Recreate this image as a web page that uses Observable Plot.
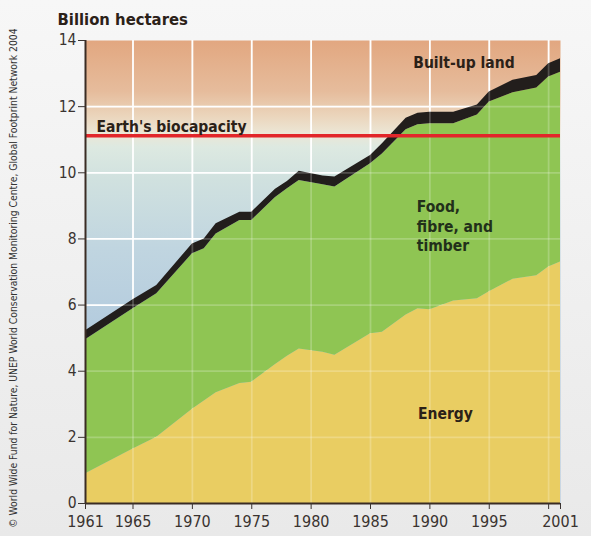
<!DOCTYPE html>
<html><head><meta charset="utf-8">
<script src="https://cdn.jsdelivr.net/npm/d3@7"></script>
<script src="https://cdn.jsdelivr.net/npm/@observablehq/plot@0.6"></script>
<style>
html,body{margin:0;padding:0;}
body{width:591px;height:536px;background:linear-gradient(#f7f7f7,#e9e9e9);overflow:hidden;}
#chart svg{display:block;overflow:visible;}
</style></head><body><div id="chart"></div>
<script>
const years   = [1961,1965,1967,1970,1971,1972,1974,1975,1977,1978,1979,1981,1982,1985,1986,1988,1989,1990,1992,1994,1995,1997,1999,2000,2001];
const energy  = [0.90,1.65,2.00,2.85,3.10,3.35,3.63,3.67,4.20,4.45,4.67,4.57,4.48,5.13,5.18,5.70,5.89,5.86,6.12,6.19,6.40,6.78,6.89,7.15,7.30];
const food    = [4.05,4.24,4.34,4.70,4.60,4.80,4.93,4.89,5.05,5.07,5.10,5.07,5.09,5.14,5.39,5.60,5.56,5.62,5.36,5.56,5.74,5.64,5.67,5.75,5.74];
const builtUp = [0.27,0.27,0.25,0.30,0.30,0.31,0.25,0.25,0.25,0.22,0.28,0.26,0.30,0.25,0.31,0.35,0.35,0.35,0.35,0.30,0.30,0.38,0.38,0.40,0.41];
const biocapacity = 11.12;
const seriesNames  = ["Energy", "Food, fibre, and timber", "Built-up land"];
const seriesColors = ["#e9cd62", "#8fc553", "#221e1c"];
const yTicks = [0,2,4,6,8,10,12,14];
const xTicks = [1961,1965,1970,1975,1980,1985,1990,1995,2000,2001];
const xTickLabels = ["1961","1965","1970","1975","1980","1985","1990","1995","","2001"];
const gridYValues = [2,4,6,8,10,12];
const gridXValues = [1965,1970,1975,1980,1985,1990,1995,2000];
const titleText = "Billion hectares";
const creditText = "© World Wide Fund for Nature, UNEP World Conservation Monitoring Centre, Global Footprint Network 2004";

const rows = [];
years.forEach((yr, i) => {
  rows.push({year: yr, series: seriesNames[0], value: energy[i]});
  rows.push({year: yr, series: seriesNames[1], value: food[i]});
  rows.push({year: yr, series: seriesNames[2], value: builtUp[i]});
});

const COND = "'Liberation Sans Narrow','DejaVu Sans Condensed','Roboto',sans-serif";
const ink = "#2b2118";

const chart = Plot.plot({
  width: 591, height: 536,
  marginTop: 40, marginBottom: 33, marginLeft: 85, marginRight: 31,
  x: {domain: [1961, 2001]},
  y: {domain: [0, 14]},
  color: {domain: seriesNames, range: seriesColors},
  style: {background: "transparent", fontFamily: COND, overflow: "visible"},
  marks: [
    Plot.frame({fill: "url(#bgGrad)", stroke: null}),
    Plot.gridY(gridYValues, {stroke: "white", strokeOpacity: 1, strokeWidth: 1.8}),
    Plot.gridX(gridXValues, {stroke: "white", strokeOpacity: 1, strokeWidth: 1.8}),
    Plot.areaY(rows, {x: "year", y: "value", fill: "series", order: seriesNames}),
    Plot.gridY(gridYValues, {stroke: "white", strokeOpacity: 0.22, strokeWidth: 1.8}),
    Plot.gridX(gridXValues, {stroke: "white", strokeOpacity: 0.22, strokeWidth: 1.8}),
    Plot.ruleY([biocapacity], {stroke: "#e2262a", strokeWidth: 3.5}),
    Plot.ruleX([1961], {stroke: "#3a2c24", strokeWidth: 2}),
    Plot.ruleY([0], {stroke: "#3a2c24", strokeWidth: 2}),
    Plot.axisY({ticks: yTicks, tickSize: 7, tickPadding: 2, fontSize: 15.5, color: "#3a3330", label: null}),
    Plot.axisX({ticks: xTicks, tickFormat: (d, i) => xTickLabels[i], tickSize: 6, tickPadding: 6, fontSize: 16, color: "#3a3330", label: null}),
    Plot.text([titleText], {frameAnchor: "top-left", dx: -28, dy: -21, lineAnchor: "middle", textAnchor: "start", fontSize: 16.5, fontWeight: "bold", fill: ink}),
    Plot.text([creditText], {frameAnchor: "left", dx: -72, dy: 6, rotate: -90, textAnchor: "middle", fontSize: 10.3, fill: "#333"}),
    Plot.text(["Earth's biocapacity"], {x: 1961, y: biocapacity, dx: 11, dy: -4, lineAnchor: "bottom", textAnchor: "start", fontSize: 15.5, fontWeight: "bold", fill: ink}),
    Plot.text(["Built-up land"], {x: 1988.6, y: 13.33, lineAnchor: "middle", textAnchor: "start", fontSize: 15.5, fontWeight: "bold", fill: ink}),
    Plot.text(["Food,\nfibre, and\ntimber"], {x: 1988.9, y: 9.22, lineAnchor: "top", textAnchor: "start", lineHeight: 1.25, fontSize: 15.5, fontWeight: "bold", fill: "#22301a"}),
    Plot.text(["Energy"], {x: 1989, y: 2.72, lineAnchor: "middle", textAnchor: "start", fontSize: 15.5, fontWeight: "bold", fill: ink})
  ]
});

document.getElementById("chart").appendChild(chart);
const svg = chart.tagName.toLowerCase() === "svg" ? chart : chart.querySelector("svg");
const grad = d3.select(svg).insert("defs", ":first-child")
  .append("linearGradient").attr("id", "bgGrad")
  .attr("x1", 0).attr("y1", 0).attr("x2", 0).attr("y2", 1);
[[0, "#e2a780"], [0.11, "#e6bc9c"], [0.165, "#ebd6bd"], [0.2, "#ece6d5"], [0.23, "#dde9e1"], [0.3, "#d0e1df"], [0.45, "#c0d5e0"], [0.65, "#b2cade"], [1, "#a9c3dc"]]
  .forEach(([o, c]) => grad.append("stop").attr("offset", o).attr("stop-color", c));
</script>
</body></html>
